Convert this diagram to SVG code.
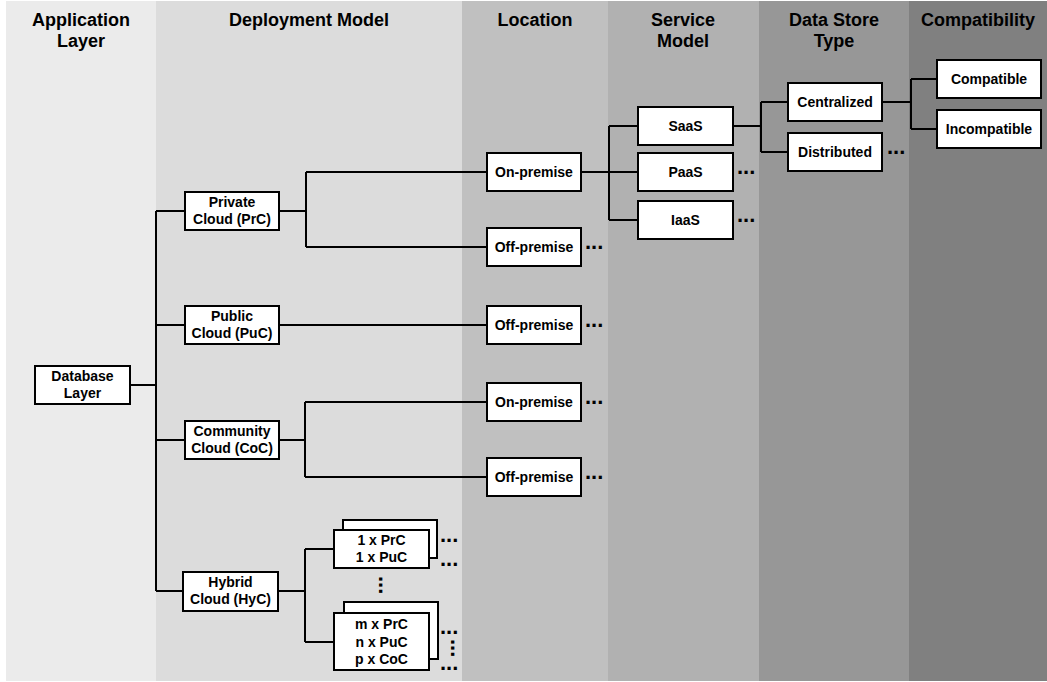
<svg xmlns="http://www.w3.org/2000/svg" width="1047" height="682" viewBox="0 0 1047 682">
<style>
.hdr{font-family:"Liberation Sans",Arial,sans-serif;font-weight:bold;font-size:18px;text-anchor:middle;fill:#000}
.nt{font-family:"Liberation Sans",Arial,sans-serif;font-weight:bold;font-size:14px;text-anchor:middle;fill:#000}
.dots{font-family:"Liberation Sans",Arial,sans-serif;font-weight:bold;font-size:22px;fill:#000}
.box{fill:#fff;stroke:#000;stroke-width:2}
.ln{fill:none;stroke:#000;stroke-width:2}
</style>
<g id="bands">
<rect x="6" y="1" width="150" height="680" fill="#ebebeb"/>
<rect x="156" y="1" width="306" height="680" fill="#dcdcdc"/>
<rect x="462" y="1" width="146" height="680" fill="#c0c0c0"/>
<rect x="608" y="1" width="151" height="680" fill="#b1b1b1"/>
<rect x="759" y="1" width="150" height="680" fill="#979797"/>
<rect x="909" y="1" width="138" height="680" fill="#808080"/>
</g>
<g id="headers">
<text class="hdr" x="81" y="26">Application</text>
<text class="hdr" x="81" y="47">Layer</text>
<text class="hdr" x="309" y="26">Deployment Model</text>
<text class="hdr" x="535" y="26">Location</text>
<text class="hdr" x="683" y="26">Service</text>
<text class="hdr" x="683" y="47">Model</text>
<text class="hdr" x="834" y="26">Data Store</text>
<text class="hdr" x="834" y="47">Type</text>
<text class="hdr" x="978" y="26">Compatibility</text>
</g>
<g id="connectors">
<path class="ln" d="M130 385H156M156 211V591M156 211H185M156 325H185M156 440H185M156 591H183"/>
<path class="ln" d="M279 211H306M306 172V247M306 172H487M306 247H487"/>
<path class="ln" d="M279 325H487"/>
<path class="ln" d="M279 440H305M305 402V477M305 402H487M305 477H487"/>
<path class="ln" d="M278 591H305M305 549V642M305 549H334M305 642H334"/>
<path class="ln" d="M581 172H609M609 126V220M609 126H638M609 172H638M609 220H638"/>
<path class="ln" d="M733 126H761M761 102V152M761 102H788M761 152H788"/>
<path class="ln" d="M882 102H911M911 79V129M911 79H937M911 129H937"/>
</g>
<g id="n-database"><rect class="box" x="35" y="366" width="95" height="38"/><text class="nt" x="82.5" y="381">Database</text><text class="nt" x="82.5" y="398">Layer</text></g>
<g id="n-private"><rect class="box" x="185" y="192" width="94" height="38"/><text class="nt" x="232" y="207">Private</text><text class="nt" x="232" y="224">Cloud (PrC)</text></g>
<g id="n-public"><rect class="box" x="185" y="306" width="94" height="38"/><text class="nt" x="232" y="321">Public</text><text class="nt" x="232" y="338">Cloud (PuC)</text></g>
<g id="n-community"><rect class="box" x="185" y="421" width="94" height="38"/><text class="nt" x="232" y="436">Community</text><text class="nt" x="232" y="453">Cloud (CoC)</text></g>
<g id="n-hybrid"><rect class="box" x="183" y="572" width="95" height="39"/><text class="nt" x="230.5" y="587">Hybrid</text><text class="nt" x="230.5" y="604">Cloud (HyC)</text></g>
<g id="n-hyb1">
<rect class="box" x="343" y="520" width="94" height="38"/>
<rect class="box" x="334" y="530" width="95" height="38"/>
<text class="nt" x="381.5" y="544.5">1 x PrC</text><text class="nt" x="381.5" y="562">1 x PuC</text>
</g>
<g id="n-hyb2">
<rect class="box" x="344" y="602" width="94" height="57"/>
<rect class="box" x="334" y="613" width="95" height="57"/>
<text class="nt" x="381.5" y="629">m x PrC</text><text class="nt" x="381.5" y="646.5">n x PuC</text><text class="nt" x="381.5" y="664">p x CoC</text>
</g>
<g id="n-onprem1"><rect class="box" x="487" y="153" width="94" height="38"/><text class="nt" x="534" y="177">On-premise</text></g>
<g id="n-offprem1"><rect class="box" x="487" y="228" width="94" height="38"/><text class="nt" x="534" y="252">Off-premise</text></g>
<g id="n-offprem2"><rect class="box" x="487" y="306" width="94" height="38"/><text class="nt" x="534" y="330">Off-premise</text></g>
<g id="n-onprem3"><rect class="box" x="487" y="383" width="94" height="38"/><text class="nt" x="534" y="407">On-premise</text></g>
<g id="n-offprem3"><rect class="box" x="487" y="458" width="94" height="38"/><text class="nt" x="534" y="482">Off-premise</text></g>
<g id="n-saas"><rect class="box" x="638" y="107" width="95" height="38"/><text class="nt" x="685.5" y="131">SaaS</text></g>
<g id="n-paas"><rect class="box" x="638" y="153" width="95" height="38"/><text class="nt" x="685.5" y="177">PaaS</text></g>
<g id="n-iaas"><rect class="box" x="638" y="201" width="95" height="38"/><text class="nt" x="685.5" y="225">IaaS</text></g>
<g id="n-centralized"><rect class="box" x="788" y="83" width="94" height="38"/><text class="nt" x="835" y="107">Centralized</text></g>
<g id="n-distributed"><rect class="box" x="788" y="133" width="94" height="38"/><text class="nt" x="835" y="157">Distributed</text></g>
<g id="n-compatible"><rect class="box" x="937" y="60" width="104" height="38"/><text class="nt" x="989" y="84">Compatible</text></g>
<g id="n-incompatible"><rect class="box" x="937" y="110" width="104" height="38"/><text class="nt" x="989" y="134">Incompatible</text></g>
<g id="ellipses">
<text class="dots" x="585" y="248.5">...</text>
<text class="dots" x="585" y="326.5">...</text>
<text class="dots" x="585" y="403.5">...</text>
<text class="dots" x="585" y="478.5">...</text>
<text class="dots" x="737" y="173.5">...</text>
<text class="dots" x="737" y="221.5">...</text>
<text class="dots" x="887" y="153.5">...</text>
<text class="dots" x="440" y="541.5">...</text>
<text class="dots" x="440" y="565.5">...</text>
<text class="dots" x="440" y="633.5">...</text>
<text class="dots" x="440" y="669.5">...</text>
<text class="dots" transform="rotate(90 378.5 576)" x="378.5" y="576">...</text>
<text class="dots" transform="rotate(90 450.5 639)" x="450.5" y="639">...</text>
</g>
</svg>
